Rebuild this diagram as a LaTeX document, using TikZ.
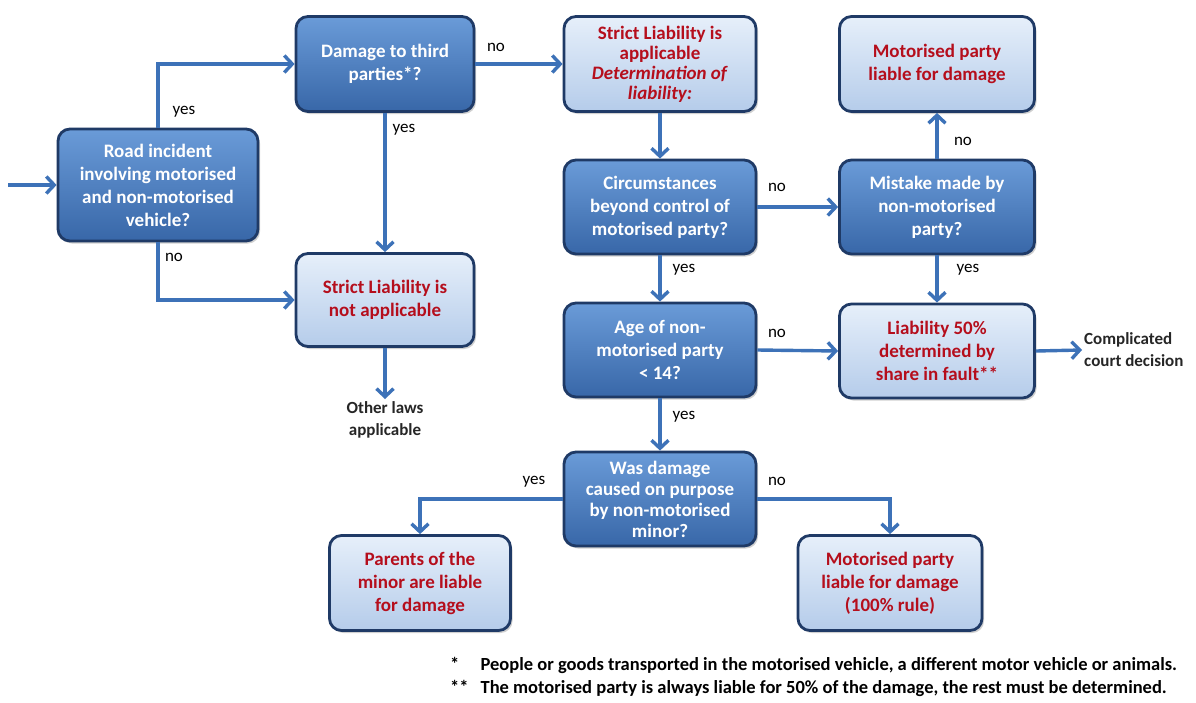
\documentclass[tikz,border=0pt]{standalone}
\usepackage{fontspec}
\setmainfont{Carlito}
\usetikzlibrary{arrows.meta,shadows}
\definecolor{darktop}{HTML}{6A9BD8}
\definecolor{darkbot}{HTML}{3867A8}
\definecolor{lighttop}{HTML}{E6EFFA}
\definecolor{lightbot}{HTML}{B5CCEA}
\definecolor{boxborder}{HTML}{1F3A66}
\definecolor{redtxt}{HTML}{B50E1C}
\definecolor{arrowblue}{HTML}{3D72B8}
\begin{document}
\begin{tikzpicture}[x=1pt,y=-1pt,
  box/.style={rectangle, rounded corners=12pt, draw=boxborder, line width=2.8pt,
    align=center, inner sep=3pt, font=\fontsize{19}{23}\selectfont\bfseries,
    drop shadow={shadow xshift=2pt,shadow yshift=-2.5pt,opacity=0.3,fill=black!60}},
  qbox/.style={box, top color=darktop, bottom color=darkbot, text=white},
  abox/.style={box, top color=lighttop, bottom color=lightbot, text=redtxt},
  arr/.style={draw=arrowblue, line width=3.4pt, -{Straight Barb[length=8pt,width=17pt]}},
  lbl/.style={font=\fontsize{17}{20}\selectfont, text=black, inner sep=0pt},
  outtxt/.style={font=\fontsize{17}{22}\selectfont\bfseries, align=center, text=black!85, inner sep=2pt}
]
\fill[white] (0,0) rectangle (1196,702);
\useasboundingbox (0,0) rectangle (1196,702);

% nodes
\node[qbox, minimum width=200, minimum height=112] (road) at (158,185)
  {Road incident\\involving motorised\\and non-motorised\\vehicle?};
\node[qbox, minimum width=178, minimum height=95] (damage) at (385,64)
  {Damage to third\\parties*?};
\node[abox, minimum width=178, minimum height=93] (snot) at (385,300)
  {Strict Liability is\\not applicable};
\node[abox, minimum width=192, minimum height=95, font=\fontsize{19}{20}\selectfont\bfseries] (sapp) at (660,64)
  {Strict Liability is\\applicable\\\textit{Determination of}\\\textit{liability:}};
\node[abox, minimum width=195, minimum height=95] (mtop) at (937,64)
  {Motorised party\\liable for damage};
\node[qbox, minimum width=192, minimum height=94] (circ) at (660,207)
  {Circumstances\\beyond control of\\motorised party?};
\node[qbox, minimum width=195, minimum height=94] (mist) at (937,207)
  {Mistake made by\\non-motorised\\party?};
\node[qbox, minimum width=192, minimum height=94] (age) at (660,350)
  {Age of non-\\motorised party\\< 14?};
\node[abox, minimum width=195, minimum height=94] (liab) at (937,351)
  {Liability 50\%\\determined by\\share in fault**};
\node[qbox, minimum width=192, minimum height=94, font=\fontsize{19}{21}\selectfont\bfseries] (was) at (660,499)
  {Was damage\\caused on purpose\\by non-motorised\\minor?};
\node[abox, minimum width=181, minimum height=95] (par) at (420,583)
  {Parents of the\\minor are liable\\for damage};
\node[abox, minimum width=184, minimum height=95] (m100) at (890,583)
  {Motorised party\\liable for damage\\(100\% rule)};
\node[outtxt, anchor=north] (other) at (385,399) {Other laws\\applicable};
\node[outtxt, anchor=west, align=left] (court) at (1082,350) {Complicated\\court decision};
\coordinate (start) at (8,185);

% connectors
\draw[arr] (start) -- (road.west);
\draw[arr] (road.north) |- (damage.west);
\draw[arr] (road.south) |- (snot.west);
\draw[arr] (damage.south) -- (snot.north);
\draw[arr] (damage.east) -- (sapp.west);
\draw[arr] (sapp.south) -- (circ.north);
\draw[arr] (circ.east) -- (mist.west);
\draw[arr] (circ.south) -- (age.north);
\draw[arr] (mist.north) -- (mtop.south);
\draw[arr] (mist.south) -- (liab.north);
\draw[arr] (age.east) -- (liab.west);
\draw[arr] (age.south) -- (was.north);
\draw[arr] (was.west) -| (par.north);
\draw[arr] (was.east) -| (m100.north);
\draw[arr] (snot.south) -- (other.north);
\draw[arr] (liab.east) -- (court.west);

% labels
\node[lbl] (l1) at (184,112) {yes};
\node[lbl] (l2) at (174,257) {no};
\node[lbl] (l3) at (404,130) {yes};
\node[lbl] (l4) at (496,47) {no};
\node[lbl] (l5) at (777,187) {no};
\node[lbl] (l6) at (684,270) {yes};
\node[lbl] (l7) at (963,141) {no};
\node[lbl] (l8) at (968,270) {yes};
\node[lbl] (l9) at (777,333) {no};
\node[lbl] (l10) at (684,417) {yes};
\node[lbl] (l11) at (534,482) {yes};
\node[lbl] (l12) at (777,481) {no};

% footnotes
\node[anchor=west, inner sep=0pt, font=\fontsize{18.5}{23}\selectfont\bfseries] (fn) at (450,677)
  {\begin{tabular}{@{}l@{\hspace{12pt}}l@{}}
   {*} & People or goods transported in the motorised vehicle, a different motor vehicle or animals.\\
   {**} & The motorised party is always liable for 50\% of the damage, the rest must be determined.
   \end{tabular}};
\end{tikzpicture}
\end{document}
